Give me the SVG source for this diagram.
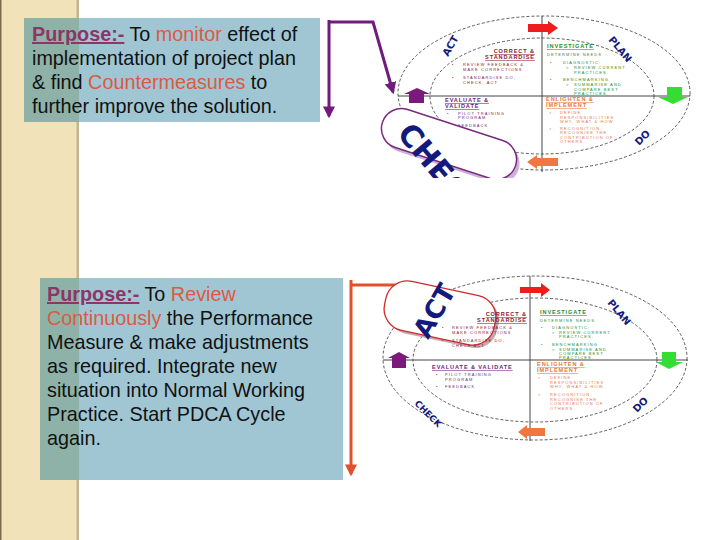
<svg xmlns="http://www.w3.org/2000/svg" width="720" height="540" viewBox="0 0 720 540">
<style>
.main{font-family:"Liberation Sans",Arial,sans-serif;font-size:19.8px;fill:#111}
.p{fill:#8c3566;font-weight:bold;text-decoration:underline}
.r{fill:#dc5a40}
.ell{fill:none;stroke:#333;stroke-width:0.8;stroke-dasharray:3 2}
.axis{stroke:#444;stroke-width:1}
.sm{font-family:"Liberation Sans",Arial,sans-serif;font-size:4px;letter-spacing:1.1px}
.hd{font-family:"Liberation Sans",Arial,sans-serif;font-size:5.6px;font-weight:bold;letter-spacing:0.9px;text-decoration:underline}
.mar{fill:#8b2030}.grn{fill:#1e8c2a}.pur{fill:#6b1f7b}.org{fill:#e8773a}
.big{font-family:"DejaVu Sans",sans-serif;font-weight:bold;fill:#131a7c}
.conP{stroke:#701c7c;stroke-width:3;fill:none}
.conR{stroke:#e0502f;stroke-width:3;fill:none}
</style>
<defs>
<marker id="ap" viewBox="0 0 10 10" refX="8" refY="5" markerWidth="4" markerHeight="4" orient="auto"><path d="M0,0 L10,5 L0,10 z" fill="#701c7c"/></marker>
<marker id="ar" viewBox="0 0 10 10" refX="8" refY="5" markerWidth="4" markerHeight="4" orient="auto"><path d="M0,0 L10,5 L0,10 z" fill="#e0502f"/></marker>
<clipPath id="topclip"><rect x="380" y="0" width="340" height="178"/></clipPath>
</defs>
<rect width="720" height="540" fill="#fff"/>
<g id="strip">
<rect x="0" y="0" width="78" height="540" fill="#f2e2b9"/>
<rect x="0" y="0" width="1.5" height="540" fill="#7a6a50"/>
<rect x="76.5" y="0" width="2.5" height="540" fill="#c4b592"/>
</g>
<g id="box-check">
<rect x="24" y="18" width="296" height="104" fill="#a0c6d4"/>
<rect x="24" y="18" width="55" height="104" fill="#8fb2a8"/>
<text class="main" x="32" y="41"><tspan class="p">Purpose:-</tspan> To <tspan class="r">monitor</tspan>  effect of</text>
<text class="main" x="32" y="65">implementation of project plan</text>
<text class="main" x="32" y="89">&amp; find <tspan class="r">Countermeasures</tspan> to</text>
<text class="main" x="32" y="113">further improve the solution.</text>
</g>
<g id="box-act">
<rect x="40" y="278" width="303" height="202" fill="#a0c6d4"/>
<rect x="40" y="278" width="39" height="202" fill="#8fb2a8"/>
<text class="main" x="47" y="301"><tspan class="p">Purpose:-</tspan> To <tspan class="r">Review</tspan></text>
<text class="main" x="47" y="325"><tspan class="r">Continuously</tspan> the Performance</text>
<text class="main" x="47" y="349">Measure &amp; make adjustments</text>
<text class="main" x="47" y="373">as required. Integrate new</text>
<text class="main" x="47" y="397">situation into Normal Working</text>
<text class="main" x="47" y="421">Practice. Start PDCA Cycle</text>
<text class="main" x="47" y="445">again.</text>
</g>
<g id="connectors">
<path class="conP" d="M329,20 L329,116" marker-end="url(#ap)"/>
<path class="conP" d="M329,22 L373,22 L393,92" marker-end="url(#ap)"/>
<path class="conR" d="M351,280 L351,474" marker-end="url(#ar)"/>
<path class="conR" d="M351,285 L400,285 L413,301" marker-end="url(#ar)"/>
</g>
<g id="pdca-top" clip-path="url(#topclip)">
<ellipse class="ell" cx="544" cy="93" rx="146" ry="77"/>
<ellipse class="ell" cx="542" cy="96" rx="112" ry="58"/>
<line class="axis" x1="542" y1="16" x2="542" y2="172"/>
<line class="axis" x1="398" y1="96" x2="690" y2="96"/>
<path d="M528,24 H548 V21 L558,28 L548,35 V32 H528 Z" fill="#ee1c1c"/>
<path d="M667,87 H682 V97 H688 L673,104 L658,97 H667 Z" fill="#33dd33"/>
<path d="M558,158 H537 V155 L527,162 L537,169 V166 H558 Z" fill="#f07840"/>
<path d="M409,103 V94 H404 L417,88 L430,94 H424 V103 Z" fill="#7a1a7a"/>
<text class="hd mar" x="535" y="53" text-anchor="end">CORRECT &amp;</text>
<text class="hd mar" x="535" y="59" text-anchor="end">STANDARDISE</text>
<text class="sm mar" x="452" y="66">•</text>
<text class="sm mar" x="463" y="66">REVIEW FEEDBACK &amp;</text>
<text class="sm mar" x="463" y="71">MAKE CORRECTIONS</text>
<text class="sm mar" x="452" y="79">•</text>
<text class="sm mar" x="463" y="79">STANDARDISE DO,</text>
<text class="sm mar" x="463" y="84">CHECK, ACT</text>
<text class="hd grn" x="547" y="48">INVESTIGATE</text>
<text class="sm grn" x="547" y="56">DETERMINE NEEDS</text>
<text class="sm grn" x="550" y="64">•</text>
<text class="sm grn" x="563" y="64">DIAGNOSTIC:</text>
<text class="sm grn" x="566" y="69">&gt;</text>
<text class="sm grn" x="574" y="69">REVIEW CURRENT</text>
<text class="sm grn" x="574" y="74">PRACTICES.</text>
<text class="sm grn" x="550" y="81">•</text>
<text class="sm grn" x="563" y="81">BENCHMARKING</text>
<text class="sm grn" x="566" y="86">&gt;</text>
<text class="sm grn" x="574" y="86">SUMMARISE AND</text>
<text class="sm grn" x="574" y="90.5">COMPARE BEST</text>
<text class="sm grn" x="574" y="95">PRACTICES.</text>
<text class="hd pur" x="445" y="102">EVALUATE &amp;</text>
<text class="hd pur" x="445" y="108">VALIDATE</text>
<text class="sm pur" x="447" y="114.5">•</text>
<text class="sm pur" x="458" y="114.5">PILOT TRAINING</text>
<text class="sm pur" x="458" y="119">PROGRAM</text>
<text class="sm pur" x="447" y="127">•</text>
<text class="sm pur" x="458" y="127">FEEDBACK</text>
<text class="hd org" x="546" y="101">ENLIGHTEN &amp;</text>
<text class="hd org" x="546" y="107">IMPLEMENT</text>
<text class="sm org" x="549" y="114">&gt;</text>
<text class="sm org" x="560" y="114">DEFINE</text>
<text class="sm org" x="560" y="118.5">RESPONSIBILITIES</text>
<text class="sm org" x="560" y="123">WHY, WHAT &amp; HOW</text>
<text class="sm org" x="549" y="129.5">&gt;</text>
<text class="sm org" x="560" y="129.5">RECOGNITION,</text>
<text class="sm org" x="560" y="134">RECOGNISE THE</text>
<text class="sm org" x="560" y="138.5">CONTRIBUTION OF</text>
<text class="sm org" x="560" y="143">OTHERS</text>
<text class="big" font-size="10" transform="translate(448,57) rotate(-60)">ACT</text>
<text class="big" font-size="10" transform="translate(608,40) rotate(50)">PLAN</text>
<text class="big" font-size="10" transform="translate(639,146) rotate(-45)">DO</text>
<g id="check-bubble">
<rect x="-70" y="-20" width="140" height="40" rx="20" transform="translate(452,148) rotate(18)" fill="#cdb0dc"/>
<rect x="-70" y="-20" width="140" height="40" rx="20" transform="translate(449,144) rotate(18)" fill="#fff" stroke="#7a2a7a" stroke-width="1.5"/>
<text class="big" font-size="30" transform="translate(396,134) rotate(50)">CHECK</text>
</g>
</g>
<g id="pdca-bottom">
<ellipse class="ell" cx="535" cy="358" rx="152" ry="82"/>
<ellipse class="ell" cx="535" cy="360" rx="122" ry="62"/>
<line class="axis" x1="530" y1="276" x2="530" y2="441"/>
<line class="axis" x1="383" y1="360" x2="688" y2="360"/>
<path d="M520,287 H541 V283 L550,290 L541,297 V293 H520 Z" fill="#ee1c1c"/>
<path d="M662,352 H676 V362 H683 L669,369 L656,362 H662 Z" fill="#33dd33"/>
<path d="M545,428 H527 V425 L518,432 L527,439 V436 H545 Z" fill="#f07840"/>
<path d="M392,368 V358 H388 L399,352 L410,358 H406 V368 Z" fill="#7a1a7a"/>
<g id="act-bubble">
<rect x="-56" y="-25" width="112" height="50" rx="22" transform="translate(443,316) rotate(12)" fill="#c0aab4"/>
<rect x="-56" y="-25" width="112" height="50" rx="22" transform="translate(440,313) rotate(12)" fill="#fff" stroke="#d02a2a" stroke-width="1.3"/>
<text class="big" font-size="26" transform="translate(428,340) rotate(-60)">ACT</text>
</g>
<text class="hd mar" x="527" y="316" text-anchor="end">CORRECT &amp;</text>
<text class="hd mar" x="527" y="322" text-anchor="end">STANDARDISE</text>
<text class="sm mar" x="442" y="329">•</text>
<text class="sm mar" x="452" y="329">REVIEW FEEDBACK &amp;</text>
<text class="sm mar" x="452" y="334">MAKE CORRECTIONS</text>
<text class="sm mar" x="442" y="342">•</text>
<text class="sm mar" x="452" y="342">STANDARDISE DO,</text>
<text class="sm mar" x="452" y="347">CHECK ACT</text>
<text class="hd grn" x="540" y="314">INVESTIGATE</text>
<text class="sm grn" x="540" y="322">DETERMINE NEEDS</text>
<text class="sm grn" x="541" y="329">•</text>
<text class="sm grn" x="552" y="329">DIAGNOSTIC:</text>
<text class="sm grn" x="552" y="333.5">&gt;</text>
<text class="sm grn" x="559" y="333.5">REVIEW CURRENT</text>
<text class="sm grn" x="559" y="338">PRACTICES.</text>
<text class="sm grn" x="541" y="346">•</text>
<text class="sm grn" x="552" y="346">BENCHMARKING</text>
<text class="sm grn" x="552" y="350.5">&gt;</text>
<text class="sm grn" x="559" y="350.5">SUMMARISE AND</text>
<text class="sm grn" x="559" y="355">COMPARE BEST</text>
<text class="sm grn" x="559" y="359">PRACTICES.</text>
<text class="hd pur" x="432" y="369">EVALUATE &amp; VALIDATE</text>
<text class="sm pur" x="436" y="376">•</text>
<text class="sm pur" x="445" y="376">PILOT TRAINING</text>
<text class="sm pur" x="445" y="380.5">PROGRAM</text>
<text class="sm pur" x="436" y="388">•</text>
<text class="sm pur" x="445" y="388">FEEDBACK</text>
<text class="hd org" x="537" y="366">ENLIGHTEN &amp;</text>
<text class="hd org" x="537" y="372">IMPLEMENT</text>
<text class="sm org" x="538" y="379">&gt;</text>
<text class="sm org" x="550" y="379">DEFINE</text>
<text class="sm org" x="550" y="383.5">RESPONSIBILITIES</text>
<text class="sm org" x="550" y="388">WHY, WHAT &amp; HOW</text>
<text class="sm org" x="538" y="396">&gt;</text>
<text class="sm org" x="550" y="396">RECOGNITION,</text>
<text class="sm org" x="550" y="400.5">RECOGNISE THE</text>
<text class="sm org" x="550" y="405">CONTRIBUTION OF</text>
<text class="sm org" x="550" y="409.5">OTHERS</text>
<text class="big" font-size="10" transform="translate(607,303) rotate(50)">PLAN</text>
<text class="big" font-size="10" transform="translate(637,413) rotate(-45)">DO</text>
<text class="big" font-size="9" transform="translate(414,404) rotate(45)">CHECK</text>
</g>
</svg>
